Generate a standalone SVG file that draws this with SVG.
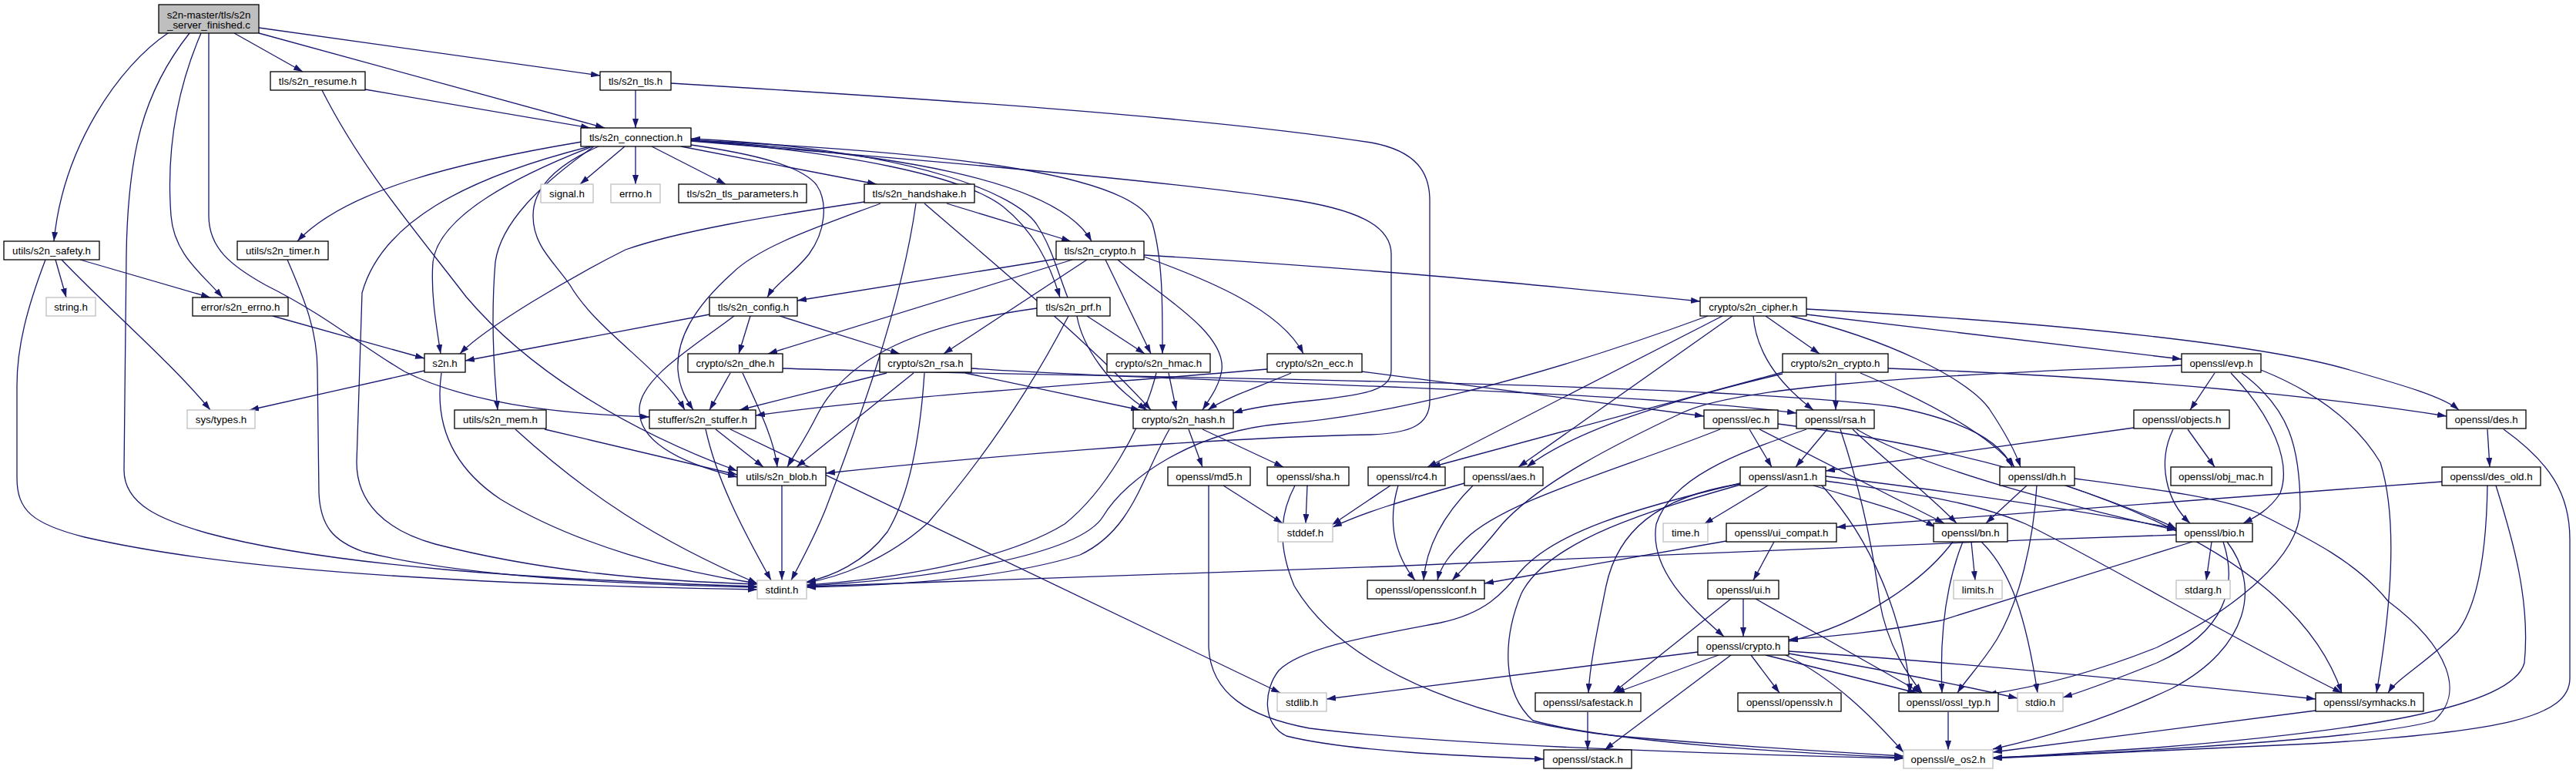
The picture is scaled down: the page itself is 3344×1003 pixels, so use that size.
<svg xmlns="http://www.w3.org/2000/svg" width="3344" height="1003" viewBox="0 0 3344 1003">
<defs>
<marker id="a" viewBox="0 0 12 8" refX="12" refY="4" markerWidth="12" markerHeight="8" markerUnits="userSpaceOnUse" orient="auto"><path d="M0,0 L12,4 L0,8 Z" fill="#191970"/></marker>
<style>
.node rect{fill:#fff;stroke:#000;stroke-width:1.3}
.sys rect{stroke:#bfbfbf}
.main rect{fill:#bfbfbf}
.node text{font-family:"Liberation Sans",Arial,Helvetica,sans-serif;font-size:13.3px;text-anchor:middle;fill:#000}
#edges path{fill:none;stroke:#191970;stroke-width:1.3;marker-end:url(#a)}
</style>
</defs>
<rect width="3344" height="1003" fill="#fff"/>
<g id="edges">
<path d="M218,43 C155,85 82,190 70,313"/>
<path d="M246,43 C185,120 166,200 164,330 L161,610 C161,655 210,675 270,692 C430,735 700,752 983,761"/>
<path d="M261,43 C228,120 216,200 222,280 C226,330 262,355 289,386"/>
<path d="M271,43 L271,280 C271,322 300,345 345,370 C425,410 470,450 525,482 C620,530 760,538 843,541"/>
<path d="M304,43 L393,93"/>
<path d="M336,43 L785,166"/>
<path d="M336,36 L779,98"/>
<path d="M474,116 L766,166"/>
<path d="M418,117 C470,220 540,300 605,385 C690,485 820,560 957,611"/>
<path d="M825,117 L825,166"/>
<path d="M871,108 C1200,128 1550,150 1780,185 C1840,196 1856,225 1856,260 L1856,520 C1856,552 1830,562 1780,564 C1560,568 1250,595 1072,614"/>
<path d="M811,190 L753,239"/>
<path d="M825,190 L825,239"/>
<path d="M846,190 L942,239"/>
<path d="M884,190 L1138,239"/>
<path d="M755,184 C600,210 450,245 386,313"/>
<path d="M766,190 C600,232 495,290 470,380 L463,600 C463,652 500,688 565,706 C705,742 850,754 983,758"/>
<path d="M769,190 C640,240 568,290 562,340 C559,380 566,420 572,459"/>
<path d="M771,190 C700,240 650,290 643,340 C638,400 640,470 646,532"/>
<path d="M777,190 C720,215 692,245 692,280 C692,320 720,340 740,370 C775,430 860,480 889,532"/>
<path d="M897,188 C980,200 1040,215 1060,240 C1075,262 1072,300 1050,330 C1030,355 1005,370 996,386"/>
<path d="M897,182 C1150,198 1372,232 1417,313"/>
<path d="M897,182 C1100,198 1250,228 1302,268 C1342,300 1362,340 1376,386"/>
<path d="M1386,386 C1372,350 1365,320 1345,290 C1320,255 1200,195 897,180"/>
<path d="M897,182 C1250,198 1472,228 1496,290 C1510,340 1509,400 1509,459"/>
<path d="M897,183 C1200,208 1500,233 1670,258 C1760,271 1806,292 1806,330 L1806,480 C1806,505 1778,512 1700,520 C1650,525 1620,530 1601,536"/>
<path d="M72,337 L86,386"/>
<path d="M104,337 L273,386"/>
<path d="M80,337 C140,400 222,470 273,532"/>
<path d="M59,337 C35,400 22,450 22,500 L22,620 C22,662 42,680 110,697 C220,722 420,755 983,765"/>
<path d="M354,410 L551,465"/>
<path d="M551,481 L324,532"/>
<path d="M573,484 C565,540 578,600 650,648 C750,708 880,742 983,757"/>
<path d="M373,337 C396,390 412,430 412,480 L414,640 C416,682 432,702 472,716 C600,748 800,758 983,762"/>
<path d="M669,557 C760,640 850,700 983,757"/>
<path d="M707,557 L957,616"/>
<path d="M921,408 L604,468"/>
<path d="M974,410 L959,459"/>
<path d="M1012,410 L1168,459"/>
<path d="M953,410 C900,450 832,490 830,530 C828,572 880,600 957,619"/>
<path d="M1122,262 C1000,280 880,300 812,324 C740,360 630,425 597,459"/>
<path d="M1143,264 C1060,295 985,320 950,355 C900,400 878,440 880,480 C882,505 892,520 900,532"/>
<path d="M1189,264 C1170,400 1110,560 1072,660 C1056,700 1038,732 1027,753"/>
<path d="M1200,264 C1300,350 1420,450 1494,532"/>
<path d="M1229,264 L1390,313"/>
<path d="M1371,336 L1035,390"/>
<path d="M1392,337 L997,459"/>
<path d="M1411,337 L1225,459"/>
<path d="M1435,337 L1494,459"/>
<path d="M1451,337 C1500,380 1592,430 1586,480 C1583,500 1572,515 1561,532"/>
<path d="M1485,333 C1560,360 1662,400 1692,459"/>
<path d="M1485,331 C1800,350 2000,370 2207,391"/>
<path d="M1411,410 L1486,459"/>
<path d="M1398,410 C1405,450 1440,500 1489,532"/>
<path d="M1346,400 C1200,420 1100,460 1060,540 C1045,570 1031,590 1022,606"/>
<path d="M1387,410 C1330,520 1262,612 1205,678 C1150,728 1085,750 1047,756"/>
<path d="M1261,478 C1500,495 2100,505 2332,536"/>
<path d="M1151,484 L960,532"/>
<path d="M1186,484 L1034,606"/>
<path d="M1200,484 C1195,560 1182,640 1152,690 C1122,730 1080,748 1047,755"/>
<path d="M1253,484 L1480,532"/>
<path d="M948,484 L921,532"/>
<path d="M964,484 C985,530 1005,570 1009,606"/>
<path d="M1016,478 C1400,490 2200,494 2460,528 C2560,548 2600,578 2612,606"/>
<path d="M1517,484 L1527,532"/>
<path d="M1501,484 C1482,560 1432,640 1382,680 C1300,730 1150,752 1047,759"/>
<path d="M1543,557 L1561,606"/>
<path d="M1561,557 L1666,606"/>
<path d="M1518,557 C1482,620 1470,688 1402,720 C1300,752 1150,760 1047,762"/>
<path d="M2217,410 C2000,490 1800,540 1662,550 C1550,560 1462,620 1432,670 C1400,722 1200,752 1047,760"/>
<path d="M929,557 L991,606"/>
<path d="M916,557 C930,620 960,680 1001,753"/>
<path d="M948,557 L1662,899"/>
<path d="M1015,630 L1015,753"/>
<path d="M1588,630 L1665,679"/>
<path d="M1569,630 L1569,840 C1572,900 1620,930 1700,945 C1900,970 2300,980 2471,984"/>
<path d="M1697,630 L1695,679"/>
<path d="M1681,630 C1665,660 1655,700 1680,760 C1750,880 1950,940 2100,955 C2250,968 2400,977 2471,981"/>
<path d="M1805,630 L1729,681"/>
<path d="M1815,630 C1800,680 1812,722 1837,753"/>
<path d="M1901,627 C1820,650 1770,665 1730,684"/>
<path d="M1912,630 C1880,662 1852,702 1848,753"/>
<path d="M2236,410 L1853,606"/>
<path d="M2249,410 L1971,606"/>
<path d="M2276,410 C2280,460 2312,500 2354,532"/>
<path d="M2292,410 L2362,459"/>
<path d="M2345,408 L2832,466"/>
<path d="M2345,401 C2700,420 2950,450 3050,480 C3120,500 3172,515 3192,532"/>
<path d="M2324,410 C2450,440 2552,490 2582,530 C2602,560 2616,585 2623,606"/>
<path d="M2314,483 L1858,606"/>
<path d="M2314,485 C2200,512 2052,552 1982,606"/>
<path d="M2383,484 L2383,532"/>
<path d="M2451,478 C2800,490 3050,520 3176,540"/>
<path d="M2415,484 C2500,520 2582,562 2615,606"/>
<path d="M1767,482 L2212,540"/>
<path d="M1645,479 C1400,500 1150,515 981,539"/>
<path d="M1676,484 C1640,500 1592,515 1568,532"/>
<path d="M2233,557 C2100,610 1952,650 1902,700 C1882,720 1870,735 1866,753"/>
<path d="M2271,557 L2300,606"/>
<path d="M2284,557 L2524,679"/>
<path d="M2308,550 C2700,600 2980,720 3040,899"/>
<path d="M2372,557 L2331,606"/>
<path d="M2345,557 C2250,590 2170,620 2150,680 C2140,742 2200,792 2238,826"/>
<path d="M2389,557 C2410,620 2430,700 2440,780 C2450,840 2480,880 2495,899"/>
<path d="M2405,557 C2450,600 2502,640 2540,679"/>
<path d="M2410,557 C2500,610 2700,660 2825,688"/>
<path d="M2840,557 L2875,606"/>
<path d="M2821,557 C2800,600 2812,650 2843,679"/>
<path d="M2770,555 L2370,611"/>
<path d="M2875,484 L2843,532"/>
<path d="M2832,474 C2450,488 2250,505 2185,535 C2100,575 2000,625 1950,680 C1922,715 1902,735 1885,753"/>
<path d="M2896,484 C2950,540 2975,600 2960,640 C2946,662 2926,672 2912,679"/>
<path d="M2910,484 C2972,530 2986,580 2986,660 C2986,722 2900,792 2800,840 C2700,880 2620,895 2580,901"/>
<path d="M2935,480 C3010,510 3060,550 3090,600 C3115,680 3102,800 3085,899"/>
<path d="M3229,557 L3232,606"/>
<path d="M3250,557 C3310,600 3336,640 3336,700 L3336,880 C3336,930 3250,950 3000,965 C2800,975 2660,980 2587,984"/>
<path d="M3170,625 L2384,684"/>
<path d="M3229,630 C3228,700 3220,780 3190,820 C3150,860 3112,880 3100,899"/>
<path d="M3240,630 C3262,700 3285,780 3277,860 C3262,920 3050,950 2800,970 C2700,977 2620,982 2587,984"/>
<path d="M2631,630 L2578,679"/>
<path d="M2644,630 C2640,700 2622,780 2592,830 C2572,862 2552,882 2541,899"/>
<path d="M2682,630 C2740,650 2790,668 2825,686"/>
<path d="M2693,621 C2800,635 2880,645 2930,665 C3000,700 3060,730 3100,780 C3180,840 3200,900 3160,935 C3100,955 2800,975 2587,983"/>
<path d="M2295,630 L2212,680"/>
<path d="M2354,630 C2420,650 2480,665 2512,684"/>
<path d="M2370,624 C2480,640 2560,650 2630,680 C2750,740 2900,830 3040,899"/>
<path d="M2365,630 C2430,700 2470,800 2480,899"/>
<path d="M2259,627 C2120,660 2020,690 1975,740 C1950,770 1930,795 1870,808 C1780,825 1690,840 1660,870 C1640,895 1638,940 1670,955 C1750,975 1900,981 2004,985"/>
<path d="M2258,628 C2150,645 2100,690 2085,760 C2075,810 2064,860 2062,899"/>
<path d="M2370,618 C2550,640 2700,662 2825,686"/>
<path d="M2259,629 C2150,660 2010,700 1975,770 C1950,830 1950,900 1990,935 C2100,965 2350,978 2471,983"/>
<path d="M2241,702 L1927,757"/>
<path d="M2303,703 L2276,753"/>
<path d="M2263,777 L2263,826"/>
<path d="M2247,777 L2094,899"/>
<path d="M2279,777 L2494,899"/>
<path d="M2559,703 L2564,753"/>
<path d="M2572,703 C2610,740 2630,800 2645,899"/>
<path d="M2548,703 C2525,760 2518,830 2521,899"/>
<path d="M2535,703 C2500,750 2420,810 2322,832"/>
<path d="M2871,703 L2864,753"/>
<path d="M2886,703 C2905,760 2890,820 2800,860 C2750,880 2710,895 2678,905"/>
<path d="M2891,703 C2935,760 2920,840 2820,893 C2720,940 2640,960 2587,972"/>
<path d="M2846,703 L2520,805 C2430,822 2370,826 2322,830"/>
<path d="M2825,694 C2500,704 2200,720 1800,735 C1400,750 1200,757 1047,761"/>
<path d="M2204,846 L1722,907"/>
<path d="M2231,850 L2097,899"/>
<path d="M2247,850 L2083,973"/>
<path d="M2273,850 L2310,899"/>
<path d="M2292,850 L2488,899"/>
<path d="M2322,845 C2550,860 2800,885 3006,907"/>
<path d="M2322,848 C2450,870 2550,890 2619,906"/>
<path d="M2318,850 C2380,880 2430,930 2471,976"/>
<path d="M2061,924 L2061,973"/>
<path d="M2529,924 L2529,973"/>
<path d="M3006,922 L2587,976"/>
</g>
<g id="nodes">
<g id="n-main" class="node main"><rect x="206" y="6" width="130" height="37"/><text x="271" y="23.5">s2n-master/tls/s2n</text><text x="271" y="37">_server_finished.c</text></g>
<g id="n-resume" class="node"><rect x="351" y="93" width="123" height="24"/><text x="412.5" y="110">tls/s2n_resume.h</text></g>
<g id="n-tls" class="node"><rect x="779" y="93" width="92" height="24"/><text x="825" y="110">tls/s2n_tls.h</text></g>
<g id="n-conn" class="node"><rect x="754" y="166" width="143" height="24"/><text x="825.5" y="183">tls/s2n_connection.h</text></g>
<g id="n-signal" class="node sys"><rect x="702" y="239" width="68" height="24"/><text x="736" y="256">signal.h</text></g>
<g id="n-errnoh" class="node sys"><rect x="793" y="239" width="64" height="24"/><text x="825" y="256">errno.h</text></g>
<g id="n-tlsparam" class="node"><rect x="881" y="239" width="166" height="24"/><text x="964" y="256">tls/s2n_tls_parameters.h</text></g>
<g id="n-handshake" class="node"><rect x="1122" y="239" width="143" height="24"/><text x="1193.5" y="256">tls/s2n_handshake.h</text></g>
<g id="n-safety" class="node"><rect x="5" y="313" width="124" height="24"/><text x="67" y="330">utils/s2n_safety.h</text></g>
<g id="n-timer" class="node"><rect x="308" y="313" width="118" height="24"/><text x="367" y="330">utils/s2n_timer.h</text></g>
<g id="n-tlscrypto" class="node"><rect x="1371" y="313" width="114" height="24"/><text x="1428" y="330">tls/s2n_crypto.h</text></g>
<g id="n-string" class="node sys"><rect x="60" y="386" width="64" height="24"/><text x="92" y="403">string.h</text></g>
<g id="n-s2nerrno" class="node"><rect x="250" y="386" width="124" height="24"/><text x="312" y="403">error/s2n_errno.h</text></g>
<g id="n-config" class="node"><rect x="921" y="386" width="114" height="24"/><text x="978" y="403">tls/s2n_config.h</text></g>
<g id="n-prf" class="node"><rect x="1346" y="386" width="95" height="24"/><text x="1393.5" y="403">tls/s2n_prf.h</text></g>
<g id="n-cipher" class="node"><rect x="2207" y="386" width="138" height="24"/><text x="2276" y="403">crypto/s2n_cipher.h</text></g>
<g id="n-s2nh" class="node"><rect x="551" y="459" width="53" height="24"/><text x="577.5" y="476">s2n.h</text></g>
<g id="n-dhe" class="node"><rect x="893" y="459" width="123" height="24"/><text x="954.5" y="476">crypto/s2n_dhe.h</text></g>
<g id="n-rsa" class="node"><rect x="1142" y="459" width="119" height="24"/><text x="1201.5" y="476">crypto/s2n_rsa.h</text></g>
<g id="n-hmac" class="node"><rect x="1437" y="459" width="134" height="24"/><text x="1504" y="476">crypto/s2n_hmac.h</text></g>
<g id="n-ecc" class="node"><rect x="1645" y="459" width="123" height="24"/><text x="1706.5" y="476">crypto/s2n_ecc.h</text></g>
<g id="n-ccrypto" class="node"><rect x="2314" y="459" width="137" height="24"/><text x="2382.5" y="476">crypto/s2n_crypto.h</text></g>
<g id="n-evp" class="node"><rect x="2832" y="459" width="103" height="24"/><text x="2883.5" y="476">openssl/evp.h</text></g>
<g id="n-systypes" class="node sys"><rect x="243" y="532" width="88" height="24"/><text x="287" y="549">sys/types.h</text></g>
<g id="n-mem" class="node"><rect x="590" y="532" width="119" height="24"/><text x="649.5" y="549">utils/s2n_mem.h</text></g>
<g id="n-stuffer" class="node"><rect x="843" y="532" width="138" height="24"/><text x="912" y="549">stuffer/s2n_stuffer.h</text></g>
<g id="n-hash" class="node"><rect x="1471" y="532" width="130" height="24"/><text x="1536" y="549">crypto/s2n_hash.h</text></g>
<g id="n-ec" class="node"><rect x="2212" y="532" width="96" height="24"/><text x="2260" y="549">openssl/ec.h</text></g>
<g id="n-orsa" class="node"><rect x="2332" y="532" width="101" height="24"/><text x="2382.5" y="549">openssl/rsa.h</text></g>
<g id="n-objects" class="node"><rect x="2770" y="532" width="124" height="24"/><text x="2832" y="549">openssl/objects.h</text></g>
<g id="n-des" class="node"><rect x="3176" y="532" width="103" height="24"/><text x="3227.5" y="549">openssl/des.h</text></g>
<g id="n-blob" class="node"><rect x="957" y="606" width="115" height="24"/><text x="1014.5" y="623">utils/s2n_blob.h</text></g>
<g id="n-md5" class="node"><rect x="1516" y="606" width="107" height="24"/><text x="1569.5" y="623">openssl/md5.h</text></g>
<g id="n-sha" class="node"><rect x="1645" y="606" width="106" height="24"/><text x="1698" y="623">openssl/sha.h</text></g>
<g id="n-rc4" class="node"><rect x="1776" y="606" width="100" height="24"/><text x="1826" y="623">openssl/rc4.h</text></g>
<g id="n-aes" class="node"><rect x="1901" y="606" width="102" height="24"/><text x="1952" y="623">openssl/aes.h</text></g>
<g id="n-asn1" class="node"><rect x="2259" y="606" width="111" height="24"/><text x="2314.5" y="623">openssl/asn1.h</text></g>
<g id="n-dh" class="node"><rect x="2596" y="606" width="97" height="24"/><text x="2644.5" y="623">openssl/dh.h</text></g>
<g id="n-objmac" class="node"><rect x="2818" y="606" width="131" height="24"/><text x="2883.5" y="623">openssl/obj_mac.h</text></g>
<g id="n-desold" class="node"><rect x="3170" y="606" width="128" height="24"/><text x="3234" y="623">openssl/des_old.h</text></g>
<g id="n-stddef" class="node sys"><rect x="1659" y="679" width="71" height="24"/><text x="1694.5" y="696">stddef.h</text></g>
<g id="n-time" class="node sys"><rect x="2159" y="679" width="58" height="24"/><text x="2188" y="696">time.h</text></g>
<g id="n-uicompat" class="node"><rect x="2241" y="679" width="143" height="24"/><text x="2312.5" y="696">openssl/ui_compat.h</text></g>
<g id="n-bn" class="node"><rect x="2510" y="679" width="96" height="24"/><text x="2558" y="696">openssl/bn.h</text></g>
<g id="n-bio" class="node"><rect x="2825" y="679" width="99" height="24"/><text x="2874.5" y="696">openssl/bio.h</text></g>
<g id="n-stdint" class="node sys"><rect x="983" y="753" width="64" height="24"/><text x="1015" y="770">stdint.h</text></g>
<g id="n-opensslconf" class="node"><rect x="1775" y="753" width="152" height="24"/><text x="1851" y="770">openssl/opensslconf.h</text></g>
<g id="n-ui" class="node"><rect x="2217" y="753" width="92" height="24"/><text x="2263" y="770">openssl/ui.h</text></g>
<g id="n-limits" class="node sys"><rect x="2536" y="753" width="63" height="24"/><text x="2567.5" y="770">limits.h</text></g>
<g id="n-stdarg" class="node sys"><rect x="2825" y="753" width="70" height="24"/><text x="2860" y="770">stdarg.h</text></g>
<g id="n-ocrypto" class="node"><rect x="2204" y="826" width="118" height="24"/><text x="2263" y="843">openssl/crypto.h</text></g>
<g id="n-stdlib" class="node sys"><rect x="1658" y="899" width="64" height="24"/><text x="1690" y="916">stdlib.h</text></g>
<g id="n-safestack" class="node"><rect x="1993" y="899" width="137" height="24"/><text x="2061.5" y="916">openssl/safestack.h</text></g>
<g id="n-opensslv" class="node"><rect x="2256" y="899" width="134" height="24"/><text x="2323" y="916">openssl/opensslv.h</text></g>
<g id="n-ossltyp" class="node"><rect x="2465" y="899" width="129" height="24"/><text x="2529.5" y="916">openssl/ossl_typ.h</text></g>
<g id="n-stdio" class="node sys"><rect x="2619" y="899" width="59" height="24"/><text x="2648.5" y="916">stdio.h</text></g>
<g id="n-symhacks" class="node"><rect x="3006" y="899" width="140" height="24"/><text x="3076" y="916">openssl/symhacks.h</text></g>
<g id="n-stack" class="node"><rect x="2004" y="973" width="114" height="24"/><text x="2061" y="990">openssl/stack.h</text></g>
<g id="n-eos2" class="node sys"><rect x="2471" y="973" width="116" height="24"/><text x="2529" y="990">openssl/e_os2.h</text></g>
</g>
</svg>
